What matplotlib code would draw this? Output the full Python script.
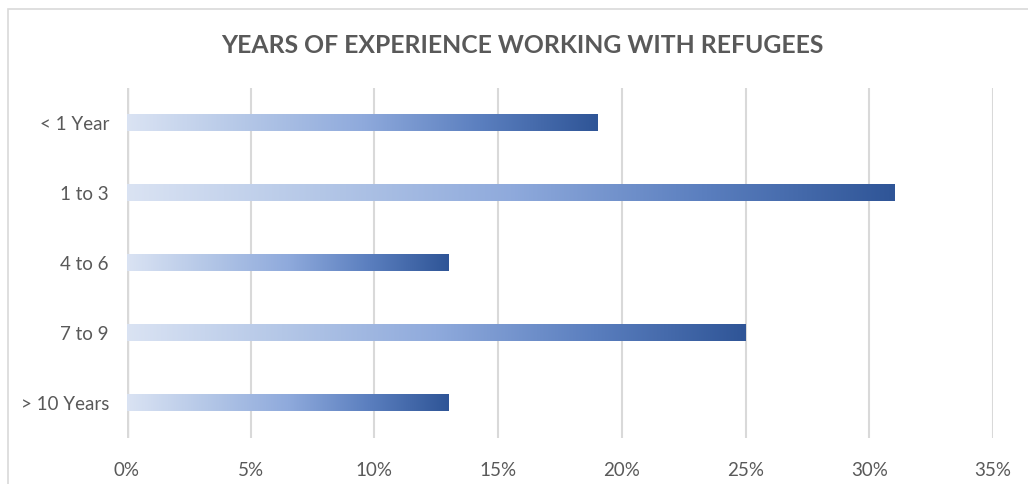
import numpy as np
import matplotlib.pyplot as plt
from matplotlib.colors import LinearSegmentedColormap
from matplotlib.patches import Rectangle
from matplotlib.ticker import FuncFormatter

# Datos
categorias = ["< 1 Year", "1 to 3", "4 to 6", "7 to 9", "> 10 Years"]
porcentajes = [19, 31, 13, 25, 13]
ticks_x = [0, 5, 10, 15, 20, 25, 30, 35]

gris_texto = "#595959"
gris_lineas = "#d9d9d9"

degradado = LinearSegmentedColormap.from_list(
    "azul", ["#dae3f3", "#b4c7e7", "#8faadc", "#5b7fbf", "#2f5597"]
)

plt.rcParams["font.family"] = ["Lato", "DejaVu Sans"]

fig = plt.figure(figsize=(10.28, 4.84), dpi=100)
ax = fig.add_axes([0.1235, 0.095, 0.8425, 0.723])

# Marco del grafico
fig.patches.append(Rectangle((0.008, -0.01), 1.2, 0.992, transform=fig.transFigure,
                             facecolor="none", edgecolor=gris_lineas, lw=1.2))

medio_alto = 0.12
grad = np.linspace(0, 1, 256).reshape(1, -1)
for i, v in enumerate(porcentajes):
    ax.imshow(grad, cmap=degradado, aspect="auto", interpolation="bicubic",
              extent=(0, v, i + medio_alto, i - medio_alto), zorder=3)

ax.set_xlim(0, 35)
ax.set_ylim(len(categorias) - 0.5, -0.5)
ax.set_xticks(ticks_x)
ax.xaxis.set_major_formatter(FuncFormatter(lambda x, _: f"{x:.0f}%"))
ax.set_yticks(range(len(categorias)))
ax.set_yticklabels(categorias)

ax.grid(axis="x", color=gris_lineas, lw=1.5, zorder=0)
for s in ax.spines.values():
    s.set_visible(False)
ax.axvline(0, color=gris_lineas, lw=2.5, zorder=1)
ax.tick_params(length=0, labelsize=13.5, colors=gris_texto)
ax.tick_params(axis="x", pad=17)
ax.tick_params(axis="y", pad=13)

fig.text(0.508, 0.907, "YEARS OF EXPERIENCE WORKING WITH REFUGEES",
         ha="center", va="center", fontsize=17.8, fontweight="bold", color=gris_texto)

fig.savefig("out.png", dpi=100)
